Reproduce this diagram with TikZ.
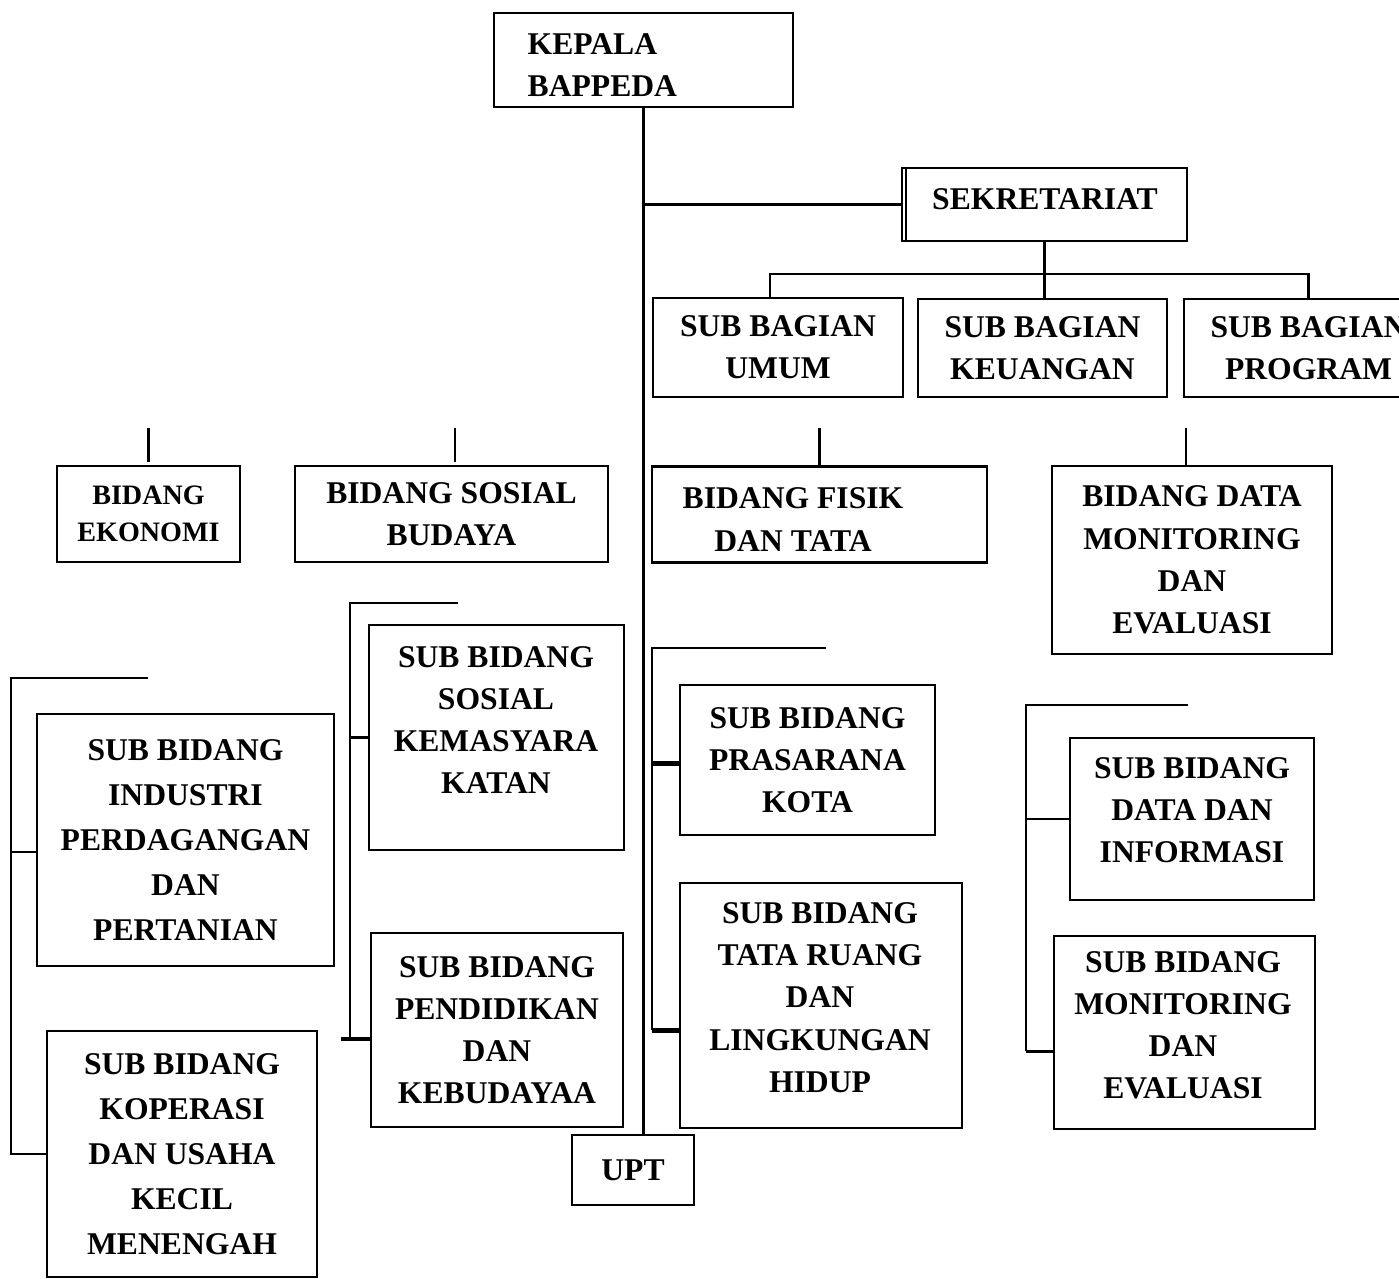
\documentclass[tikz,border=0pt]{standalone}
\usepackage{fontspec}
\setmainfont{Liberation Serif}

\begin{document}
\begin{tikzpicture}[
  box/.style={draw, line width=0.8pt, inner sep=0pt, outer sep=0pt, align=center,
    font=\bfseries\fontsize{9}{12}\selectfont},
  txt/.style={inner sep=0pt, align=center, font=\bfseries\fontsize{9}{12}\selectfont},
  loosetext/.style={font=\bfseries\fontsize{9}{12.8}\selectfont},
  smalltext/.style={font=\bfseries\fontsize{8}{10.5}\selectfont},
  link/.style={line width=0.7pt},
  heavylink/.style={line width=1.3pt}
]

  % Page size of the scanned chart
  \useasboundingbox (0,0) rectangle (13.99,-12.79);
  \clip (0,0) rectangle (13.99,-12.79);

  % Head of the office
  \node[box, minimum width=2.99cm, minimum height=0.94cm] (kepala) at (6.435,-0.60) {};
  \node[txt, align=left, anchor=west] (kepalaT) at (5.27,-0.655) {KEPALA\\BAPPEDA};

  % Secretariat and its sub sections
  \node[box, minimum width=2.85cm, minimum height=0.73cm] (sekre) at (10.445,-2.045) {};
  \node[txt] (sekreT) at (10.45,-1.99) {SEKRETARIAT};
  \node[box, minimum width=2.50cm, minimum height=0.99cm] (umum) at (7.78,-3.475) {SUB BAGIAN\\UMUM};
  \node[box, minimum width=2.49cm, minimum height=0.98cm] (keu) at (10.425,-3.48) {SUB BAGIAN\\KEUANGAN};
  \node[box, minimum width=2.49cm, minimum height=0.98cm] (prog) at (13.085,-3.48) {SUB BAGIAN\\PROGRAM};

  % The four fields
  \node[box, smalltext, minimum width=1.83cm, minimum height=0.96cm] (eko) at (1.485,-5.14) {BIDANG\\EKONOMI};
  \node[box, minimum width=3.13cm, minimum height=0.96cm] (sosbud) at (4.515,-5.14) {BIDANG SOSIAL\\BUDAYA};
  \node[box, minimum width=3.35cm, minimum height=0.96cm] (fisik) at (8.195,-5.145) {};
  \node[txt] (fisikT) at (7.93,-5.195) {BIDANG FISIK\\DAN TATA};
  \node[box, minimum width=2.80cm, minimum height=1.88cm] (datmon) at (11.92,-5.60) {BIDANG DATA\\MONITORING\\DAN\\EVALUASI};

  % Sub fields of economy
  \node[box, loosetext, minimum width=2.97cm, minimum height=2.52cm] (industri) at (1.855,-8.40)
    {SUB BIDANG\\INDUSTRI\\PERDAGANGAN\\DAN\\PERTANIAN};
  \node[box, loosetext, minimum width=2.70cm, minimum height=2.46cm] (koperasi) at (1.82,-11.54)
    {SUB BIDANG\\KOPERASI\\DAN USAHA\\KECIL\\MENENGAH};

  % Sub fields of social and culture
  \node[box, minimum width=2.55cm, minimum height=2.25cm] (kemas) at (4.965,-7.375) {};
  \node[txt] (kemasT) at (4.96,-7.20) {SUB BIDANG\\SOSIAL\\KEMASYARA\\KATAN};
  \node[box, minimum width=2.52cm, minimum height=1.94cm] (pendidik) at (4.97,-10.30)
    {SUB BIDANG\\PENDIDIKAN\\DAN\\KEBUDAYAA};

  % Sub fields of physical planning
  \node[box, minimum width=2.55cm, minimum height=1.50cm] (prasarana) at (8.075,-7.60)
    {SUB BIDANG\\PRASARANA\\KOTA};
  \node[box, minimum width=2.82cm, minimum height=2.45cm] (tataruang) at (8.21,-10.055) {};
  \node[txt] (tataruangT) at (8.20,-9.975) {SUB BIDANG\\TATA RUANG\\DAN\\LINGKUNGAN\\HIDUP};

  % Sub fields of data
  \node[box, minimum width=2.44cm, minimum height=1.62cm] (datainfo) at (11.92,-8.19) {};
  \node[txt] (datainfoT) at (11.92,-8.105) {SUB BIDANG\\DATA DAN\\INFORMASI};
  \node[box, minimum width=2.61cm, minimum height=1.93cm] (monev) at (11.845,-10.325) {};
  \node[txt] (monevT) at (11.83,-10.255) {SUB BIDANG\\MONITORING\\DAN\\EVALUASI};

  % Technical unit
  \node[box, minimum width=1.22cm, minimum height=0.70cm] (upt) at (6.33,-11.70) {UPT};

  % Main line down to the UPT
  \draw[link] (kepala.south) -- (kepala.south |- upt.north);

  % Branch to the secretariat, with its double left edge
  \draw[link] (kepala.south |- sekre.west) -- (sekre.west);
  \draw[link] ([xshift=0.04cm]sekre.north west) -- ([xshift=0.04cm]sekre.south west);

  % Secretariat down to the sub sections
  \coordinate (bar) at (10.445,-2.74);
  \draw[link] (sekre.south) -- (sekre.south |- keu.north);
  \draw[link] ([xshift=-0.08cm]umum.north) |- (bar) -| (prog.north);

  % Short stubs above the fields
  \draw[link] ([yshift=0.04cm]eko.north) -- ++(0,0.34);
  \draw[link] ([xshift=0.035cm, yshift=0.04cm]sosbud.north) -- ++(0,0.34);
  \draw[link] (fisik.north) -- ++(0,0.38);
  \draw[link] ([xshift=-0.06cm]datmon.north) -- ++(0,0.38);

  % Bracket of the economy group
  \coordinate (ekoTop) at (1.48,-6.78);
  \coordinate (ekoBend) at (0.11,-6.78);
  \draw[link] (ekoTop) -- (ekoBend) |- (koperasi.west);
  \draw[link] ([yshift=-0.12cm]industri.west) -- ++(-0.26,0);

  % Bracket of the social group
  \coordinate (sosTop) at (4.58,-6.03);
  \coordinate (sosBend) at (3.50,-6.03);
  \draw[link] (sosTop) -- (sosBend) -- ++(0,-4.36);
  \draw[link] (sosBend |- kemas.west) -- (kemas.west);
  \draw[heavylink] ([yshift=-0.09cm]pendidik.west) -- ++(-0.30,0);

  % Bracket of the physical group
  \coordinate (fisTop) at (8.26,-6.48);
  \coordinate (fisBend) at (6.52,-6.48);
  \draw[link] (fisTop) -- (fisBend) -- ++(0,-3.82);
  \draw[heavylink] ([yshift=-0.035cm]prasarana.west) -- ++(-0.28,0);
  \draw[heavylink] ([yshift=-0.25cm]tataruang.west) -- ++(-0.28,0);

  % Bracket of the data group
  \coordinate (datTop) at (11.88,-7.05);
  \coordinate (datBend) at (10.26,-7.05);
  \draw[link] (datTop) -- (datBend) -- ++(0,-3.46);
  \draw[link] (datBend |- datainfo.west) -- (datainfo.west);
  \draw[link] ([yshift=-0.19cm]monev.west) -- ++(-0.28,0);

\end{tikzpicture}
\end{document}
